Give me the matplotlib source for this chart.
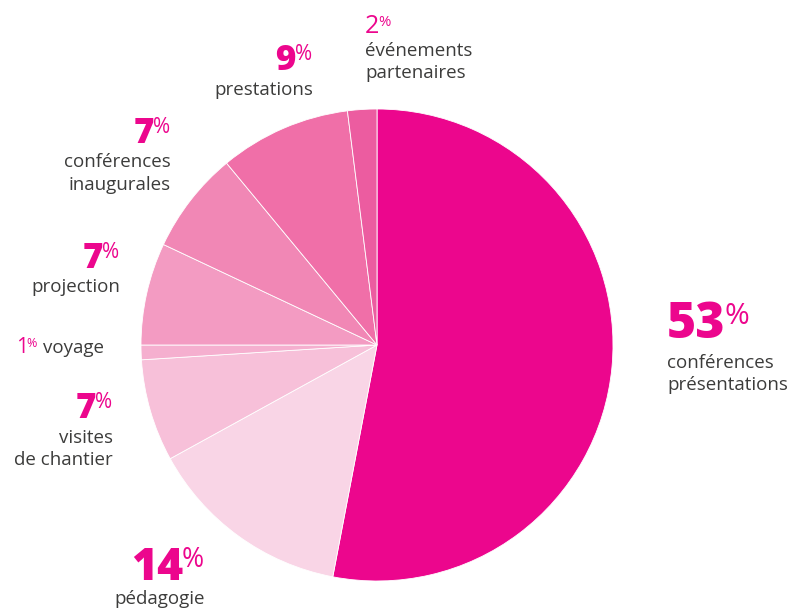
import matplotlib.pyplot as plt

# data
labels = ["conférences\nprésentations", "pédagogie", "visites\nde chantier", "voyage",
          "projection", "conférences\ninaugurales", "prestations", "événements\npartenaires"]
values = [53, 14, 7, 1, 7, 7, 9, 2]
colors = ["#EC068D", "#F9D5E6", "#F7C0D9", "#F5AFCF", "#F39BC2", "#F187B5", "#F06FA8", "#EC5CA0"]

MAG = "#EC068D"
GREY = "#3C3C3B"
FONT = "Open Sans"
BODY = 13.5
W, H = 796, 611

fig = plt.figure(figsize=(W / 100, H / 100), dpi=100)
ax = fig.add_axes([0, 0, 1, 1])

ax.pie(values, colors=colors, startangle=90, counterclock=False,
       center=(377, H - 345), radius=236, frame=True,
       wedgeprops=dict(edgecolor="white", linewidth=0.6))
ax.set_xlim(0, W)
ax.set_ylim(0, H)
ax.set_aspect("equal")
ax.axis("off")

renderer = fig.canvas.get_renderer()


def width_of(t):
    return t.get_window_extent(renderer).width


def label(x, yb, value, size, bold, ha, text="", bases=()):
    # number + small raised %, then the text lines below
    wt = "heavy" if bold else "normal"
    n = ax.text(0, H - yb, str(value), fontsize=size, fontweight=wt, color=MAG,
                family=FONT, ha="left", va="baseline")
    p = ax.text(0, H - yb, "%", fontsize=size * 0.6, fontweight="normal", color=MAG,
                family=FONT, ha="left", va="baseline")
    wn, wp = width_of(n), width_of(p)
    x0 = x if ha == "left" else x - wn - wp
    n.set_x(x0)
    p.set_x(x0 + wn - 1)
    # top of % level with top of the digits
    p.set_y(H - yb + size * 1.389 * 0.714 * 0.4)
    for line, b in zip(text.split("\n") if text else [], bases):
        ax.text(x, H - b, line, fontsize=BODY, color=GREY,
                family=FONT, ha=ha, va="baseline")


label(667, 338, values[0], 36, True, "left", labels[0], (368, 390))
label(205, 580, values[1], 32, True, "right", labels[1], (604,))
label(113, 418, values[2], 25, True, "right", labels[2], (443, 465))

# 1% voyage on one line
one = ax.text(104, H - 353, labels[3], fontsize=BODY, color=GREY, family=FONT,
              ha="right", va="baseline")
label(104 - width_of(one) - 5, 353, values[3], 15, False, "right")

label(120, 268, values[4], 25, True, "right", labels[4], (292,))
label(171, 143, values[5], 25, True, "right", labels[5], (167, 190))
label(313, 70, values[6], 25, True, "right", labels[6], (95,))
label(365, 33, values[7], 18, False, "left", labels[7], (56, 78))

fig.savefig("out.png", dpi=100)
